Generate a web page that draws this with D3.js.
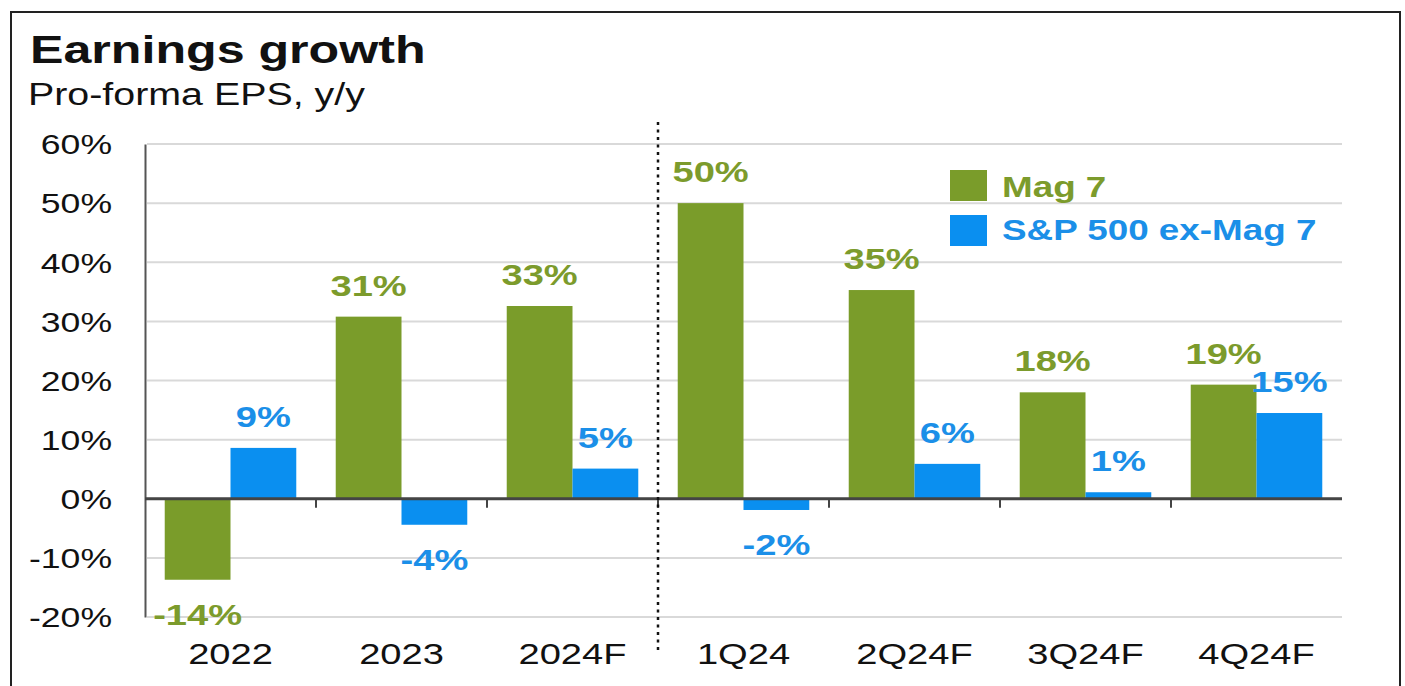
<!DOCTYPE html>
<html>
<head>
<meta charset="utf-8">
<script src="https://cdn.jsdelivr.net/npm/d3@7"></script>
<style>
  body { margin: 0; background: #fff; }
  text { font-family: "Liberation Sans", Arial, sans-serif; }
</style>
</head>
<body>
<div id="chart"></div>
<script>
// Values
const categories = ["2022", "2023", "2024F", "1Q24", "2Q24F", "3Q24F", "4Q24F"];
const mag7 = [-13.7, 30.8, 32.6, 50.0, 35.3, 18.0, 19.3];
const spxExMag7 = [8.6, -4.4, 5.1, -1.9, 5.9, 1.1, 14.5];
const seriesNames = ["Mag 7", "S&P 500 ex-Mag 7"];
const yTicks = [-20, -10, 0, 10, 20, 30, 40, 50, 60];

const width = 1405, height = 686;
const colors = ["#7a9c2a", "#0a8ff0"];
const labelColors = ["#7c9b2c", "#1b8fe8"];
const SX = 1.27; // text in the source is stretched sideways

const svg = d3.select("#chart").append("svg")
    .attr("width", width)
    .attr("height", height);

// frame
svg.append("path")
    .attr("d", "M11,700V12H1400V700")
    .attr("fill", "none")
    .attr("stroke", "#222")
    .attr("stroke-width", 2);

// helper for stretched text
function addText(g, x, y, str, size, weight, fill, anchor) {
    return g.append("text")
        .attr("transform", `translate(${x},${y}) scale(${SX},1)`)
        .attr("font-size", size)
        .attr("font-weight", weight)
        .attr("fill", fill)
        .attr("text-anchor", anchor || "start")
        .text(str);
}

addText(svg, 30, 63, "Earnings growth", 39.5, "bold", "#111");
addText(svg, 28, 105, "Pro-forma EPS, y/y", 31, "normal", "#111");

// scales
const y = d3.scaleLinear().domain([-20, 60]).range([617, 144]);
const x = d3.scaleBand().domain(categories).range([145, 1342]).paddingInner(0).paddingOuter(0);
const x1 = d3.scaleBand().domain([0, 1]).range([0, x.bandwidth()]).paddingInner(0).paddingOuter(0.3);

// gridlines
svg.append("g").selectAll("line")
    .data(yTicks)
    .enter()
    .append("line")
    .attr("x1", 147)
    .attr("x2", 1342)
    .attr("y1", d => y(d))
    .attr("y2", d => y(d))
    .attr("stroke", "#d9d9d9")
    .attr("stroke-width", 2);

// y axis
const yAxis = svg.append("g")
    .attr("transform", `translate(145,0)`)
    .call(d3.axisLeft(y).tickValues(yTicks).tickSize(0).tickSizeOuter(0).tickFormat(d => d + "%"));
yAxis.select(".domain").attr("stroke", "#555").attr("stroke-width", 2);
yAxis.selectAll("text")
    .attr("x", null)
    .attr("dy", "0.35em")
    .attr("transform", `translate(-33,0) scale(${SX},1)`)
    .attr("font-size", 28)
    .attr("font-family", "Liberation Sans, Arial, sans-serif")
    .attr("fill", "#111");

// bars
const series = [mag7, spxExMag7];
series.forEach((values, s) => {
    const g = svg.append("g");
    g.selectAll("rect")
        .data(values)
        .enter()
        .append("rect")
        .attr("x", (_, i) => x(categories[i]) + x1(s))
        .attr("width", x1.bandwidth())
        .attr("y", d => y(Math.max(0, d)))
        .attr("height", d => Math.abs(y(d) - y(0)))
        .attr("fill", colors[s]);

    values.forEach((d, i) => {
        const cx = x(categories[i]) + x1(s) + x1.bandwidth() / 2;
        const ty = d >= 0 ? y(d) - 21 : y(d) + 45;
        addText(g, cx, ty, Math.round(d) + "%", 30, "bold", labelColors[s], "middle");
    });
});

// zero line with ticks at category boundaries
svg.append("line")
    .attr("x1", 145).attr("x2", 1342)
    .attr("y1", y(0)).attr("y2", y(0))
    .attr("stroke", "#444")
    .attr("stroke-width", 3);
svg.append("g").selectAll("line")
    .data(categories.slice(1))
    .enter()
    .append("line")
    .attr("x1", d => x(d)).attr("x2", d => x(d))
    .attr("y1", y(0)).attr("y2", y(0) + 9)
    .attr("stroke", "#444")
    .attr("stroke-width", 2);

// divider between annual and quarterly
svg.append("line")
    .attr("x1", x("1Q24")).attr("x2", x("1Q24"))
    .attr("y1", 122).attr("y2", 652)
    .attr("stroke", "#111")
    .attr("stroke-width", 2.5)
    .attr("stroke-dasharray", "3,4.5");

// category labels
const xAxis = svg.append("g")
    .attr("transform", `translate(0,617)`)
    .call(d3.axisBottom(x).tickSize(0));
xAxis.select(".domain").remove();
xAxis.selectAll("text")
    .attr("y", null)
    .attr("dy", null)
    .attr("transform", `translate(0,47) scale(${SX},1)`)
    .attr("font-size", 30)
    .attr("font-family", "Liberation Sans, Arial, sans-serif")
    .attr("fill", "#111");

// legend
const legend = svg.append("g");
seriesNames.forEach((name, s) => {
    legend.append("rect")
        .attr("x", 950)
        .attr("y", 170 + s * 45)
        .attr("width", 37)
        .attr("height", 31)
        .attr("fill", colors[s]);
    addText(legend, 1002, 197 + s * 43, name, 29, "bold", labelColors[s]);
});
</script>
</body>
</html>
